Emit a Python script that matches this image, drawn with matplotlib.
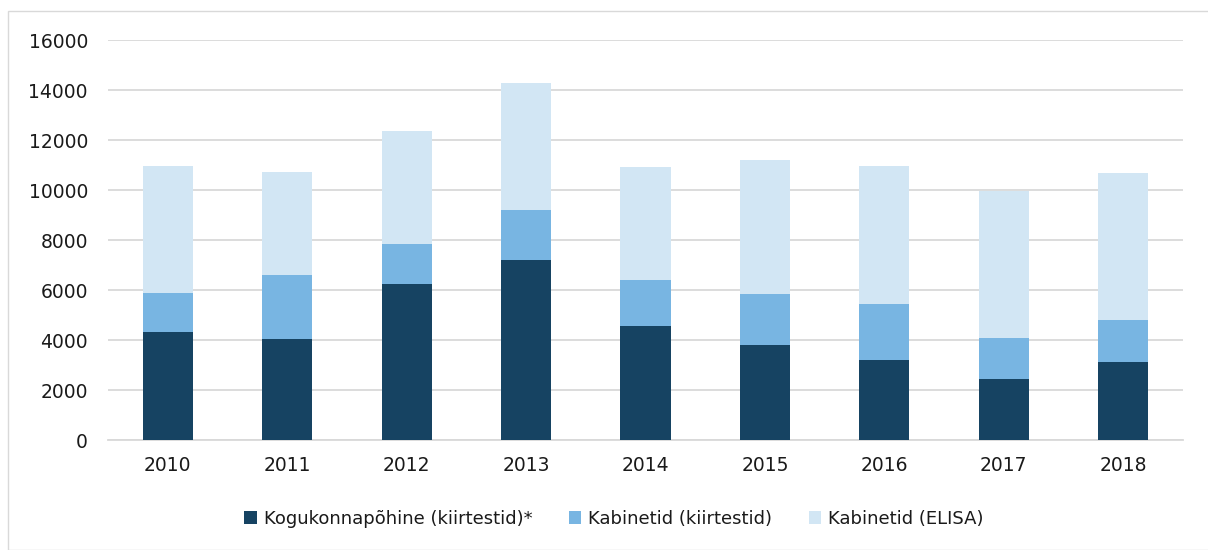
import matplotlib
matplotlib.use("Agg")
import matplotlib.pyplot as plt
from matplotlib.patches import Rectangle
import numpy as np

years = ["2010", "2011", "2012", "2013", "2014", "2015", "2016", "2017", "2018"]
kogukond = [4320, 4050, 6270, 7230, 4560, 3830, 3230, 2470, 3120]
kab_kiir = [1580, 2550, 1590, 2000, 1840, 2040, 2240, 1640, 1710]
kab_elisa = [5060, 4150, 4520, 5050, 4550, 5340, 5520, 5880, 5850]
series_names = ["Kogukonnapõhine (kiirtestid)*", "Kabinetid (kiirtestid)", "Kabinetid (ELISA)"]
colors = ["#164362", "#78b5e2", "#d2e6f4"]
yticks = [0, 2000, 4000, 6000, 8000, 10000, 12000, 14000, 16000]

W, H = 1208, 550
fig = plt.figure(figsize=(W / 100, H / 100), dpi=100)
fig.patches.append(Rectangle((8 / W, 0), 1.2, (550 - 11) / H, transform=fig.transFigure,
                             fill=False, edgecolor="#d9d9d9", linewidth=1.0))

ax = fig.add_axes([108 / W, (H - 440.3) / H, (1183 - 108) / W, 400 / H])
x = np.arange(len(years))
bw = 0.42
b1 = ax.bar(x, kogukond, bw, color=colors[0], label=series_names[0], zorder=3)
bottom2 = np.array(kogukond)
b2 = ax.bar(x, kab_kiir, bw, bottom=bottom2, color=colors[1], label=series_names[1], zorder=3)
bottom3 = bottom2 + np.array(kab_kiir)
b3 = ax.bar(x, kab_elisa, bw, bottom=bottom3, color=colors[2], label=series_names[2], zorder=3)

ax.set_xlim(-0.5, len(years) - 0.5)
ax.set_ylim(0, 16000)
ax.set_yticks(yticks)
ax.set_yticklabels([str(v) for v in yticks])
ax.set_xticks(x)
ax.set_xticklabels(years)
ax.yaxis.grid(True, color="#d9d9d9", linewidth=1.3, zorder=0)
ax.set_axisbelow(True)
for s in ["top", "right", "left"]:
    ax.spines[s].set_visible(False)
ax.spines["bottom"].set_color("#d9d9d9")
ax.spines["bottom"].set_linewidth(1.3)
ax.tick_params(axis="both", length=0, labelsize=13.5, colors="#1a1a1a")
ax.tick_params(axis="y", pad=14.4)
ax.tick_params(axis="x", pad=11)

leg = fig.legend(handles=[b1, b2, b3], labels=series_names, loc="center",
                 bbox_to_anchor=(614 / W, (H - 519) / H), ncol=3, frameon=False,
                 prop={"family": "DejaVu Sans", "size": 13},
                 handlelength=0.7, handleheight=0.7, handletextpad=0.4, columnspacing=2.0)
for t in leg.get_texts():
    t.set_color("#1a1a1a")

fig.savefig("out.png", dpi=100, facecolor="white")
